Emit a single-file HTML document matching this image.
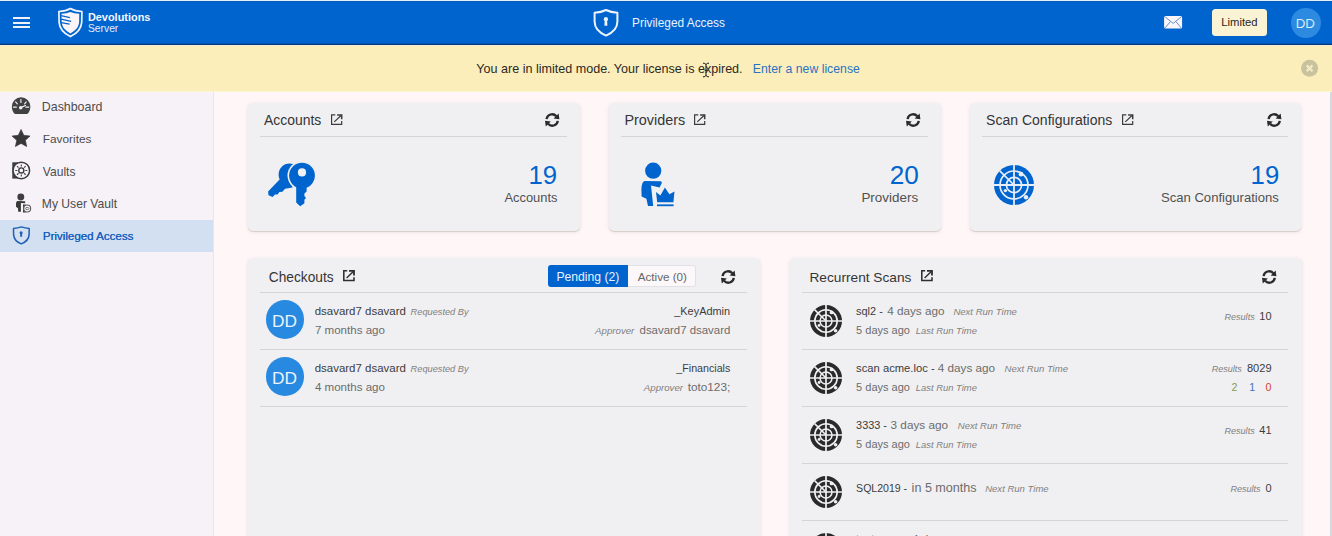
<!DOCTYPE html>
<html>
<head>
<meta charset="utf-8">
<title>Privileged Access</title>
<style>
*{box-sizing:border-box;margin:0;padding:0}
html,body{width:1332px;height:536px;overflow:hidden}
body{font-family:"Liberation Sans",sans-serif;background:#fff6f7;color:#3a3a3a;position:relative}
.a{position:absolute}
.t{position:absolute;white-space:nowrap;line-height:1}
svg{position:absolute;overflow:visible}
.card{position:absolute;background:#f0f0f2;border-radius:5px;box-shadow:0 1px 1px rgba(120,100,60,.22),0 1px 4px rgba(60,60,120,.10)}
.hr{position:absolute;height:1px;background:#d4d6d4}
.av{position:absolute;border-radius:50%;background:#2889e0}
</style>
</head>
<body>
<!-- base regions -->
<div class="a" style="left:0;top:0;width:1332px;height:1px;background:#def0fa"></div>
<div class="a" style="left:0;top:1px;width:1332px;height:1px;background:#0a5ab9;z-index:1"></div>
<div class="a" style="left:0;top:1px;width:1332px;height:43px;background:#0064cf"></div>
<div class="a" style="left:0;top:43px;width:1332px;height:1px;background:#0552b4"></div>
<div class="a" style="left:0;top:44px;width:1332px;height:1px;background:#083a80"></div>
<div class="a" style="left:0;top:45px;width:1332px;height:1px;background:#f1edd0"></div>
<div class="a" style="left:0;top:46px;width:1332px;height:44.5px;background:#fbeebb"></div>
<div class="a" style="left:0;top:90.5px;width:1332px;height:1.5px;background:#fcf6d2"></div>
<div class="a" style="left:0;top:92px;width:213px;height:444px;background:#f6f2f8"></div>
<div class="a" style="left:213px;top:92px;width:1px;height:444px;background:#e3e9f1"></div>
<div class="a" style="left:0;top:219.5px;width:213px;height:32px;background:#d3e0f1"></div>
<div class="a" style="left:1330px;top:92px;width:2px;height:444px;background:#d6d8da"></div>
<!-- hamburger -->
<div class="a" style="left:13px;top:16.8px;width:16.5px;height:2px;background:#eef3fb"></div>
<div class="a" style="left:13px;top:21.5px;width:16.5px;height:2px;background:#eef3fb"></div>
<div class="a" style="left:13px;top:26.2px;width:16.5px;height:2px;background:#eef3fb"></div>
<!-- logo shield -->
<svg style="left:56px;top:6px" width="30" height="34" viewBox="56 6 30 34">
  <path d="M70.4 8.5 Q66 11.1 58.9 11.5 L59.1 22.4 C59.6 29.4 64.2 33.6 70.4 36.6 C76.6 33.6 81.2 29.4 81.7 22.4 L81.9 11.5 Q74.8 11.1 70.4 8.5 Z" fill="none" stroke="#f1f6fd" stroke-width="1.7" stroke-linejoin="round"/>
  <path d="M70.4 11.9 Q66.6 13.5 61.5 13.7 L61.7 22.3 C62.1 27.5 65.7 30.9 70.4 33.4 C75.1 30.9 78.7 27.5 79.1 22.3 L79.3 13.7 Q74.2 13.5 70.4 11.9 Z" fill="#fbf5f8"/>
  <g stroke="#0064cf" stroke-width="1.3" fill="none">
    <path d="M61 15.6 L69.9 17.7"/>
    <path d="M61 19.1 L71.2 21.4"/>
    <path d="M61 22.6 L69.6 24.1"/>
  </g>
</svg>
<!-- center shield -->
<svg style="left:590px;top:6px" width="32" height="34" viewBox="590 6 32 34">
  <path d="M606 10 C602.5 11.8 598.5 12.6 594.6 12.8 L594.6 21.5 C594.6 28.3 599.5 32.8 606 35.6 C612.5 32.8 617.4 28.3 617.4 21.5 L617.4 12.8 C613.5 12.6 609.5 11.8 606 10 Z" fill="none" stroke="#eef3fb" stroke-width="2" stroke-linejoin="round"/>
  <circle cx="605.9" cy="19.2" r="2.1" fill="#eef3fb"/>
  <path d="M604.7 19.5 L607.1 19.5 L607.4 25.8 L604.4 25.8 Z" fill="#eef3fb"/>
</svg>
<!-- mail -->
<svg style="left:1164px;top:16px" width="19" height="13" viewBox="0 0 19 13">
  <rect x="0.1" y="0.1" width="18" height="12.5" rx="1.6" fill="#faf6fa"/>
  <path d="M1.2 1 L9.2 7.4 L17 1" fill="none" stroke="#2f6fc0" stroke-width="0.75"/>
  <path d="M1.2 11.8 L6.4 5.6 M17 11.8 L12 5.6" fill="none" stroke="#2f6fc0" stroke-width="0.75"/>
</svg>
<!-- limited button -->
<div class="a" style="left:1212.1px;top:8.9px;width:54.9px;height:27.1px;background:#fbf4d4;border-radius:3.5px"></div>
<!-- avatar -->
<div class="av" style="left:1290.9px;top:8.2px;width:29.8px;height:29.8px;background:#2c8ae0"></div>
<!-- banner close -->
<svg style="left:1300px;top:59px" width="19" height="19" viewBox="0 0 19 19">
  <circle cx="9.6" cy="9.3" r="8.5" fill="#c8c29f"/>
  <path d="M6.7 6.4 L12.5 12.2 M12.5 6.4 L6.7 12.2" stroke="#f6ecc4" stroke-width="2.2" stroke-linecap="butt"/>
</svg>
<!-- I-beam cursor -->
<svg style="left:701px;top:62px" width="10" height="16" viewBox="0 0 10 16">
  <path d="M2 1.2 C3.6 1.2 4.6 1.6 5 2.6 C5.4 1.6 6.4 1.2 8 1.2 M2 14.8 C3.6 14.8 4.6 14.4 5 13.4 C5.4 14.4 6.4 14.8 8 14.8 M5 2.4 L5 13.6 M3.6 8.3 L6.4 8.3" fill="none" stroke="#1a1a1a" stroke-width="1"/>
</svg>

<!-- top cards -->
<div class="card" style="left:248px;top:102.7px;width:331.6px;height:128.4px"></div>
<div class="card" style="left:609px;top:102.7px;width:331.6px;height:128.4px"></div>
<div class="card" style="left:969.5px;top:102.7px;width:331.6px;height:128.4px"></div>
<div class="hr" style="left:260px;top:136px;width:307px"></div>
<div class="hr" style="left:621px;top:136px;width:307px"></div>
<div class="hr" style="left:981.7px;top:136px;width:306.5px"></div>
<!-- bottom cards -->
<div class="card" style="left:248.3px;top:258.2px;width:512px;height:290px"></div>
<div class="card" style="left:789.6px;top:258.2px;width:512px;height:290px"></div>
<div class="hr" style="left:259.5px;top:292px;width:487.5px"></div>
<div class="hr" style="left:259.5px;top:349px;width:487.5px"></div>
<div class="hr" style="left:259.5px;top:406px;width:487.5px"></div>
<div class="hr" style="left:801.5px;top:292px;width:486.5px"></div>
<div class="hr" style="left:801.5px;top:349px;width:486.5px"></div>
<div class="hr" style="left:801.5px;top:406px;width:486.5px"></div>
<div class="hr" style="left:801.5px;top:463px;width:486.5px"></div>
<div class="hr" style="left:801.5px;top:520px;width:486.5px"></div>
<!-- toggle buttons -->
<div class="a" style="left:627.4px;top:265.3px;width:68.8px;height:21.5px;background:#fcf8f9;border:1px solid #e2e2e6;border-left:none;border-radius:0 3px 3px 0"></div>
<div class="a" style="left:547.7px;top:265.3px;width:80.1px;height:21.5px;background:#0064cf;border-radius:3px 0 0 3px"></div>
<!-- avatars -->
<div class="av" style="left:265.5px;top:300.3px;width:38.8px;height:38.8px"></div>
<div class="av" style="left:265.5px;top:357.3px;width:38.8px;height:38.8px"></div>

<svg width="0" height="0" style="position:absolute">
  <defs>
    <g id="ext" fill="none" stroke="#3c3c3c" stroke-width="1.2">
      <path d="M4.3 0.9 L0.6 0.9 L0.6 10.4 L10.7 10.4 L10.7 6.9"/>
      <path d="M6.1 0.9 L10.7 0.9 L10.7 5.2" stroke-width="1.5"/>
      <path d="M3.3 7.9 L10.3 1.2"/>
    </g>
    <g id="ext2" fill="none" stroke="#2e2e2e" stroke-width="1.55">
      <path d="M4.2 0.8 L0.8 0.8 L0.8 10.5 L11 10.5 L11 7.2"/>
      <path d="M6 0.8 L11 0.8 L11 5.4" stroke-width="1.8"/>
      <path d="M3.6 8 L10.6 1.2" stroke-width="1.4"/>
    </g>
    <g id="refresh">
      <path d="M1.6 6.1 A5.5 5.5 0 0 1 11.3 3.3" fill="none" stroke="#2a2a2a" stroke-width="2.3"/>
      <path d="M13.6 0.6 L14.4 6.2 L8.6 5.4 Z" fill="#2a2a2a"/>
      <path d="M12.8 7.9 A5.5 5.5 0 0 1 3.1 10.7" fill="none" stroke="#2a2a2a" stroke-width="2.3"/>
      <path d="M0.8 13.4 L0 7.8 L5.8 8.6 Z" fill="#2a2a2a"/>
    </g>
    <g id="radar">
      <circle cx="0" cy="0" r="20" fill="currentColor"/>
      <circle cx="0" cy="0" r="14" fill="none" stroke="#e6eef8" stroke-width="1.7"/>
      <circle cx="0" cy="0" r="7.6" fill="none" stroke="#e6eef8" stroke-width="1.7"/>
      <path d="M-20.5 0 L20.5 0 M0 -20.5 L0 20.5" stroke="#e6eef8" stroke-width="1.8"/>
      <path d="M0 0 L-14.2 -14.2" stroke="#e6eef8" stroke-width="1.7"/>
      <circle cx="7" cy="-10.8" r="2.4" fill="#e6eef8"/>
      <circle cx="-8.6" cy="5.6" r="1.7" fill="#e6eef8"/>
      <circle cx="12" cy="12.2" r="2.2" fill="#e6eef8"/>
    </g>
    <g id="radarD">
      <circle cx="0" cy="0" r="16" fill="#2b2a2a"/>
      <circle cx="0" cy="0" r="11.2" fill="none" stroke="#f0f0f3" stroke-width="1.6"/>
      <circle cx="0" cy="0" r="6" fill="none" stroke="#f0f0f3" stroke-width="1.5"/>
      <path d="M-16.5 0 L16.5 0 M0 -16.5 L0 16.5" stroke="#f0f0f3" stroke-width="1.7"/>
      <path d="M0 0 L-11.4 -11.4" stroke="#f0f0f3" stroke-width="1.5"/>
      <circle cx="5.6" cy="-8.6" r="1.9" fill="#f0f0f3"/>
      <circle cx="-6.9" cy="4.5" r="1.4" fill="#f0f0f3"/>
      <circle cx="9.6" cy="9.8" r="1.8" fill="#f0f0f3"/>
    </g>
  </defs>
</svg>
<!-- external-link icons -->
<svg style="left:330.6px;top:114.2px" width="12" height="12"><use href="#ext"/></svg>
<svg style="left:693.9px;top:114.2px" width="12" height="12"><use href="#ext"/></svg>
<svg style="left:1121.8px;top:114.2px" width="12" height="12"><use href="#ext"/></svg>
<svg style="left:343px;top:270.3px" width="12" height="12"><use href="#ext2"/></svg>
<svg style="left:921.2px;top:270.3px" width="12" height="12"><use href="#ext2"/></svg>
<!-- refresh icons -->
<svg style="left:544.8px;top:112.9px" width="15" height="14"><use href="#refresh"/></svg>
<svg style="left:905.6px;top:112.9px" width="15" height="14"><use href="#refresh"/></svg>
<svg style="left:1266.5px;top:112.9px" width="15" height="14"><use href="#refresh"/></svg>
<svg style="left:720.6px;top:269.8px" width="15" height="14"><use href="#refresh"/></svg>
<svg style="left:1262px;top:269.8px" width="15" height="14"><use href="#refresh"/></svg>

<!-- keys icon -->
<svg style="left:260px;top:156px" width="64" height="56" viewBox="260 156 64 56">
  <g fill="#0064cf">
    <circle cx="289.4" cy="174.4" r="10.8"/>
    <path d="M279.6 179.6 L268.1 191.6 L268.5 195.2 L272.6 197.1 L275 194.4 L277.6 194.6 L279.4 192 L282.4 191.8 L285 188.7 L292.5 187.6 L290 176 Z"/>
  </g>
  <circle cx="302" cy="175.6" r="14.5" fill="#efeff1"/>
  <g fill="#0064cf">
    <circle cx="302" cy="175.6" r="12.9"/>
    <path d="M296.2 184 L296.2 202.6 L300.2 206.2 L304.4 203.2 L304.4 199.8 L306 198 L304.4 196 L304.4 193.4 L306.6 191.6 L306.6 184 Z"/>
  </g>
  <circle cx="302" cy="172.4" r="4.1" fill="#f1f1f5"/>
</svg>

<!-- provider icon -->
<svg style="left:636px;top:158px" width="44" height="52" viewBox="636 158 44 52">
  <g fill="#0064cf">
    <circle cx="653.2" cy="170.7" r="8.1"/>
    <path d="M644.6 181 L660.6 181.2 Q662 181.4 661.8 183 L659.6 187.4 L651 185.6 L653.2 206.1 L648 206.1 L646.4 198.8 L641.6 196.4 L641.4 189 Q641.8 181.6 644.6 181 Z"/>
    <path d="M656 192 L660.4 195.6 L664.9 187.4 L669.4 194.2 L674.5 191.6 L673.4 202.2 L657.2 202.2 Z"/>
    <rect x="657" y="204.4" width="16.6" height="1.8"/>
  </g>
</svg>

<!-- radar (blue) -->
<svg style="left:1014.1px;top:184.8px;color:#0064cf" width="1" height="1"><use href="#radar"/></svg>

<!-- radar (dark, small) rows -->
<svg style="left:826.3px;top:320.6px" width="1" height="1"><use href="#radarD"/></svg>
<svg style="left:826.3px;top:377.6px" width="1" height="1"><use href="#radarD"/></svg>
<svg style="left:826.3px;top:434.6px" width="1" height="1"><use href="#radarD"/></svg>
<svg style="left:826.3px;top:491.8px" width="1" height="1"><use href="#radarD"/></svg>
<svg style="left:826.3px;top:548.6px" width="1" height="1"><use href="#radarD"/></svg>

<!-- sidebar: dashboard -->
<svg style="left:10px;top:95px" width="24" height="22" viewBox="10 95 24 22">
  <path d="M21.1 97.3 A9.25 9.25 0 0 1 30.35 106.5 C30.35 109.1 29.5 111.5 28.2 113.3 Q27.6 114.1 26.6 114.1 L15.6 114.1 Q14.6 114.1 14 113.3 C12.7 111.5 11.85 109.1 11.85 106.5 A9.25 9.25 0 0 1 21.1 97.3 Z" fill="#414141"/>
  <g stroke="#f1eef4" stroke-width="1.15" stroke-linecap="round" fill="none">
    <path d="M20.9 99.6 L20.9 102.4"/>
    <path d="M15.6 101.9 L17.3 103.9"/>
    <path d="M26.2 101.9 L24.6 103.9"/>
    <path d="M13.4 107.1 L16.4 107.1"/>
    <path d="M25.8 107.1 L28.8 107.1"/>
    <path d="M21.2 107.4 L25.4 105.5" stroke-width="1.3"/>
  </g>
  <circle cx="20.7" cy="107.8" r="1.75" fill="#f1eef4"/>
</svg>
<!-- sidebar: star -->
<svg style="left:10px;top:127px" width="24" height="22" viewBox="10 127 24 22">
  <path d="M21.05 129.4 L23.8 135.3 L30.1 136 L25.4 140.3 L26.7 146.6 L21.05 143.4 L15.4 146.6 L16.7 140.3 L12 136 L18.3 135.3 Z" fill="#383838" stroke="#383838" stroke-width="0.6" stroke-linejoin="round"/>
</svg>
<!-- sidebar: vault -->
<svg style="left:10px;top:159px" width="24" height="24" viewBox="10 159 24 24">
  <path d="M12.3 162.3 L21 162.3 L21 178.6 L12.3 178.6 Z" fill="#3c3c3c"/>
  <circle cx="21.3" cy="170.45" r="8.3" fill="#f8f5fa" stroke="#3c3c3c" stroke-width="1.5"/>
  <circle cx="21.3" cy="170.45" r="2.55" fill="none" stroke="#3a3a3a" stroke-width="1.4"/>
  <g stroke="#444" stroke-width="1.15">
    <path d="M21.3 166.5 L21.3 164.4 M21.3 174.4 L21.3 176.5 M17.35 170.45 L15.25 170.45 M25.25 170.45 L27.35 170.45"/>
    <path d="M18.5 167.65 L17 166.15 M24.1 167.65 L25.6 166.15 M18.5 173.25 L17 174.75 M24.1 173.25 L25.6 174.75"/>
  </g>
</svg>
<!-- sidebar: user vault -->
<svg style="left:12px;top:191px" width="24" height="24" viewBox="12 191 24 24">
  <circle cx="20.8" cy="197" r="3.45" fill="#3e3e3e"/>
  <path d="M17.4 201.1 L24.6 201.2 Q25.5 201.3 25.3 202.2 L24.9 203.2 L20.9 203.1 L20.9 211.8 L18.2 211.8 L18 208.2 L16 206.8 L16 203.4 Q16.2 201.3 17.4 201.1 Z" fill="#383838"/>
  <path d="M23 204.6 L26 204.6 L23.9 206.6 L23.9 210.6 L26 212.4 L23 212.4 Z" fill="#3a3a3a"/>
  <circle cx="27.2" cy="208.5" r="3.45" fill="#f6f2f8" stroke="#5a5a5a" stroke-width="1.1"/>
  <ellipse cx="27.2" cy="208.5" rx="1.7" ry="1.1" fill="none" stroke="#555" stroke-width="0.8"/>
</svg>
<!-- sidebar: privileged shield -->
<svg style="left:10px;top:224px" width="24" height="24" viewBox="10 224 24 24">
  <path d="M21.3 226.9 C18.8 227.8 16.2 228.3 13.5 228.4 L13.6 234.6 C13.8 239.3 17 242.1 21.3 243.9 C25.6 242.1 28.9 239.3 29.1 234.6 L29.2 228.4 C26.4 228.3 23.8 227.8 21.3 226.9 Z" fill="none" stroke="#1d60b4" stroke-width="1.5" stroke-linejoin="round"/>
  <circle cx="21.1" cy="232.8" r="1.5" fill="#1d60b4"/>
  <rect x="20.2" y="232.8" width="1.9" height="4" fill="#1d60b4"/>
</svg>

<div class="t" style="left:87.90px;top:12.00px;font-size:10.93px;color:#f4f8fd;font-weight:bold;">Devolutions</div>
<div class="t" style="left:87.90px;top:24.00px;font-size:10.34px;color:#e4eefb;">Server</div>
<div class="t" style="left:632.10px;top:18.00px;font-size:11.85px;color:#e9f2fc;">Privileged Access</div>
<div class="t" style="left:1221.30px;top:17.00px;font-size:11.28px;color:#2a241c;">Limited</div>
<div class="t" style="left:1295.70px;top:17.00px;font-size:13.32px;color:#d6ecfb;">DD</div>
<div class="t" style="left:476.30px;top:63.00px;font-size:12.57px;color:#2b2822;">You are in limited mode. Your license is expired.</div>
<div class="t" style="left:752.80px;top:63.00px;font-size:12.28px;color:#2a72c2;">Enter a new license</div>
<div class="t" style="left:41.80px;top:101.00px;font-size:12.4px;color:#4c4c4c;">Dashboard</div>
<div class="t" style="left:42.80px;top:134.00px;font-size:11.83px;color:#4c4c4c;">Favorites</div>
<div class="t" style="left:42.80px;top:166.00px;font-size:12.09px;color:#4c4c4c;">Vaults</div>
<div class="t" style="left:41.80px;top:198.00px;font-size:12.15px;color:#4c4c4c;">My User Vault</div>
<div class="t" style="left:42.70px;top:231.00px;font-size:11.57px;color:#1862c0;text-shadow:0.3px 0 0 currentColor;">Privileged Access</div>
<div class="t" style="left:264.00px;top:114.00px;font-size:13.95px;color:#353535;">Accounts</div>
<div class="t" style="left:624.40px;top:113.00px;font-size:14.4px;color:#353535;">Providers</div>
<div class="t" style="left:986.10px;top:113.00px;font-size:14.02px;color:#353535;">Scan Configurations</div>
<div class="t" style="left:268.80px;top:271.00px;font-size:13.71px;color:#353535;">Checkouts</div>
<div class="t" style="left:809.50px;top:271.00px;font-size:13.68px;color:#353535;">Recurrent Scans</div>
<div class="t" style="left:528.50px;top:163.00px;font-size:25.72px;color:#0064cf;">19</div>
<div class="t" style="left:889.65px;top:162.00px;font-size:26.16px;color:#0064cf;">20</div>
<div class="t" style="left:1250.60px;top:163.00px;font-size:25.72px;color:#0064cf;">19</div>
<div class="t" style="left:504.48px;top:192.00px;font-size:12.88px;color:#505050;">Accounts</div>
<div class="t" style="left:861.42px;top:191.00px;font-size:13.43px;color:#505050;">Providers</div>
<div class="t" style="left:1160.93px;top:191.00px;font-size:13.1px;color:#505050;">Scan Configurations</div>
<div class="t" style="left:556.40px;top:271.00px;font-size:12.17px;color:#e8f3fd;">Pending (2)</div>
<div class="t" style="left:637.70px;top:271.00px;font-size:11.68px;color:#666;">Active (0)</div>
<div class="t" style="left:272.00px;top:313.00px;font-size:17.31px;color:#eaf4fe;">DD</div>
<div class="t" style="left:314.70px;top:306.00px;font-size:11.48px;color:#3c3c3c;">dsavard7 dsavard</div>
<div class="t" style="left:410.60px;top:308.00px;font-size:9.24px;color:#808080;font-style:italic;">Requested By</div>
<div class="t" style="left:314.90px;top:325.00px;font-size:11.57px;color:#6c6c6c;">7 months ago</div>
<div class="t" style="left:674.29px;top:306.00px;font-size:10.92px;color:#3c3c3c;">_KeyAdmin</div>
<div class="t" style="left:595.10px;top:326.00px;font-size:9.68px;color:#808080;font-style:italic;">Approver</div>
<div class="t" style="left:639.56px;top:325.00px;font-size:11.43px;color:#6c6c6c;">dsavard7 dsavard</div>
<div class="t" style="left:272.00px;top:370.00px;font-size:17.31px;color:#eaf4fe;">DD</div>
<div class="t" style="left:314.70px;top:363.00px;font-size:11.48px;color:#3c3c3c;">dsavard7 dsavard</div>
<div class="t" style="left:410.60px;top:365.00px;font-size:9.24px;color:#808080;font-style:italic;">Requested By</div>
<div class="t" style="left:314.90px;top:382.00px;font-size:11.57px;color:#6c6c6c;">4 months ago</div>
<div class="t" style="left:676.29px;top:363.00px;font-size:10.69px;color:#3c3c3c;">_Financials</div>
<div class="t" style="left:643.80px;top:383.00px;font-size:9.68px;color:#808080;font-style:italic;">Approver</div>
<div class="t" style="left:687.64px;top:382.00px;font-size:11.8px;color:#6c6c6c;">toto123;</div>
<div class="t" style="left:856.10px;top:306.00px;font-size:10.91px;color:#3c3c3c;">sql2 -</div>
<div class="t" style="left:887.20px;top:305.00px;font-size:11.72px;color:#6c6c6c;">4 days ago</div>
<div class="t" style="left:953.40px;top:307.00px;font-size:9.54px;color:#808080;font-style:italic;">Next Run Time</div>
<div class="t" style="left:856.10px;top:325.00px;font-size:11.02px;color:#6c6c6c;">5 days ago</div>
<div class="t" style="left:915.80px;top:326.00px;font-size:9.42px;color:#808080;font-style:italic;">Last Run Time</div>
<div class="t" style="left:1224.50px;top:313.00px;font-size:9.05px;color:#808080;font-style:italic;">Results</div>
<div class="t" style="left:1259.28px;top:311.00px;font-size:11.0px;color:#3c3c3c;">10</div>
<div class="t" style="left:856.10px;top:363.00px;font-size:11.22px;color:#3c3c3c;">scan acme.loc -</div>
<div class="t" style="left:937.80px;top:362.00px;font-size:11.72px;color:#6c6c6c;">4 days ago</div>
<div class="t" style="left:1004.50px;top:364.00px;font-size:9.54px;color:#808080;font-style:italic;">Next Run Time</div>
<div class="t" style="left:856.10px;top:382.00px;font-size:11.02px;color:#6c6c6c;">5 days ago</div>
<div class="t" style="left:915.80px;top:383.00px;font-size:9.42px;color:#808080;font-style:italic;">Last Run Time</div>
<div class="t" style="left:1211.70px;top:365.00px;font-size:9.05px;color:#808080;font-style:italic;">Results</div>
<div class="t" style="left:1246.94px;top:363.00px;font-size:11.07px;color:#3c3c3c;">8029</div>
<div class="t" style="left:1231.60px;top:382.00px;font-size:10.6px;color:#7f9c55;">2</div>
<div class="t" style="left:1249.20px;top:382.00px;font-size:10.6px;color:#3d6fbf;">1</div>
<div class="t" style="left:1265.60px;top:382.00px;font-size:10.6px;color:#d0402e;">0</div>
<div class="t" style="left:856.10px;top:420.00px;font-size:10.89px;color:#3c3c3c;">3333 -</div>
<div class="t" style="left:890.60px;top:419.00px;font-size:11.72px;color:#6c6c6c;">3 days ago</div>
<div class="t" style="left:957.80px;top:421.00px;font-size:9.54px;color:#808080;font-style:italic;">Next Run Time</div>
<div class="t" style="left:856.10px;top:439.00px;font-size:11.02px;color:#6c6c6c;">5 days ago</div>
<div class="t" style="left:915.80px;top:440.00px;font-size:9.42px;color:#808080;font-style:italic;">Last Run Time</div>
<div class="t" style="left:1224.50px;top:427.00px;font-size:9.05px;color:#808080;font-style:italic;">Results</div>
<div class="t" style="left:1259.28px;top:425.00px;font-size:11.0px;color:#3c3c3c;">41</div>
<div class="t" style="left:856.10px;top:483.00px;font-size:10.56px;color:#3c3c3c;">SQL2019 -</div>
<div class="t" style="left:911.60px;top:482.00px;font-size:12.59px;color:#6c6c6c;">in 5 months</div>
<div class="t" style="left:985.20px;top:484.00px;font-size:9.54px;color:#808080;font-style:italic;">Next Run Time</div>
<div class="t" style="left:1230.40px;top:485.00px;font-size:9.05px;color:#808080;font-style:italic;">Results</div>
<div class="t" style="left:1265.40px;top:483.00px;font-size:11.0px;color:#3c3c3c;">0</div>
<div class="t" style="left:856.10px;top:534.00px;font-size:11.23px;color:#3c3c3c;">test scan -</div>
<div class="t" style="left:912.00px;top:533.00px;font-size:11.72px;color:#6c6c6c;">4 days ago</div>
<div class="t" style="left:980.00px;top:535.00px;font-size:9.54px;color:#808080;font-style:italic;">Next Run Time</div>
<div class="t" style="left:856.10px;top:553.00px;font-size:11.02px;color:#6c6c6c;">5 days ago</div>
<div class="t" style="left:915.80px;top:554.00px;font-size:9.42px;color:#808080;font-style:italic;">Last Run Time</div>
<div class="t" style="left:1211.70px;top:541.00px;font-size:9.05px;color:#808080;font-style:italic;">Results</div>
<div class="t" style="left:1246.94px;top:539.00px;font-size:11.07px;color:#3c3c3c;">2000</div>
</body>
</html>
